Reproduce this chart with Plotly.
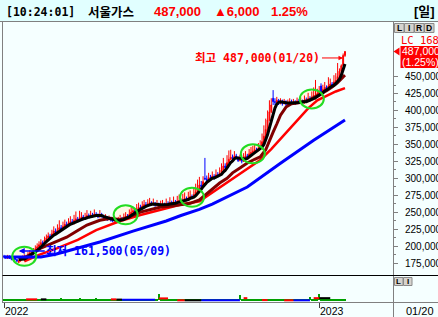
import plotly.graph_objects as go
import pandas as pd

W, H = 438, 317

# ---------------- data: daily candles, prices in thousand KRW ----------------
opens = [185,184,182,185,182,180,183,180,176,178, 181,183,185,184,187,190,189,193,196,199,
         202,205,204,209,212,215,213,218,222,220, 224,227,225,229,232,230,234,236,233,238,
         240,237,241,243,240,242,245,243,246,244, 247,245,243,246,244,241,242,239,240,238,
         237,239,236,238,240,239,242,244,243,247, 250,252,251,255,257,256,259,261,260,262,
         264,261,263,260,262,259,261,262,260,263, 261,264,262,265,263,266,267,265,268,270,
         269,271,273,272,276,280,285,290,288,300, 299,297,301,300,303,301,305,304,307,312,
         318,316,323,328,331,329,333,330,326,328, 325,330,333,331,336,338,340,342,341,344,
         348,354,362,372,386,398,418,413,412,415, 411,413,410,412,409,411,413,410,412,411,
         414,412,413,411,415,414,417,416,419,418, 420,425,436,426,431,434,432,436,439,437,
         442,444,450,458,466,481]
highs = [187,186,187,186,184,185,184,181,180,184, 186,188,187,191,194,192,197,201,204,207,
         210,208,214,217,220,218,224,229,226,232, 238,231,236,239,236,241,244,240,246,251,
         243,252,250,246,249,253,248,252,249,254, 250,248,253,249,246,247,244,245,243,241,
         244,241,243,246,243,248,250,247,254,257, 258,256,262,264,261,266,268,265,269,271,
         266,270,265,268,264,267,268,264,270,266, 272,267,273,268,274,276,270,277,279,273,
         280,282,276,286,292,298,302,296,303,330, 304,308,305,310,306,313,309,316,322,330,
         322,334,341,342,335,340,336,332,335,331, 337,340,336,343,346,348,350,345,352,356,
         366,378,388,400,415,418,430,418,420,417, 418,416,417,415,416,418,416,417,415,419,
         417,419,416,422,419,426,421,428,434,445, 432,436,440,438,442,437,449,447,442,452,
         455,470,462,468,484,487]
lows = [182,181,181,181,179,179,179,176,175,177, 180,182,182,183,186,187,188,192,195,198,
        201,202,203,207,210,211,212,217,218,219, 223,223,224,228,228,229,233,231,232,237,
        235,236,240,238,239,241,241,242,242,243, 243,241,242,242,239,240,237,238,236,235,
        236,234,235,237,237,238,241,241,242,246, 249,249,250,254,254,255,258,258,259,261,
        259,260,258,259,257,258,260,258,259,259, 260,260,261,261,262,265,263,264,267,266,
        268,270,269,271,275,279,284,285,287,297, 294,296,297,299,298,300,301,303,306,311,
        313,315,322,327,326,328,328,324,325,322, 324,329,329,330,335,337,339,338,340,343,
        347,353,361,370,384,396,408,408,410,408, 409,407,409,406,408,410,408,409,408,410,
        410,411,409,410,411,413,413,415,418,416, 419,424,423,425,430,429,431,435,434,436,
        440,443,449,456,465,479]
closes = [184,183,185,182,181,183,180,178,178,181, 183,185,184,187,190,189,193,196,199,202,
          205,204,209,212,215,213,218,222,220,224, 227,225,229,232,230,234,236,233,238,240,
          237,241,243,240,242,245,243,246,244,247, 245,243,246,244,241,242,239,240,238,237,
          239,236,238,240,239,242,244,243,247,250, 252,251,255,257,256,259,261,260,262,264,
          261,263,260,262,259,261,262,260,263,261, 264,262,265,263,266,267,265,268,270,269,
          271,273,272,276,280,285,290,288,295,299, 297,301,300,303,301,305,304,307,312,318,
          316,323,328,331,329,333,330,326,328,325, 330,333,331,336,338,340,342,341,344,348,
          354,362,372,386,398,408,413,412,415,411, 413,410,412,409,411,413,410,412,411,414,
          412,413,411,415,414,417,416,419,422,420, 425,428,426,431,434,432,436,439,437,442,
          444,450,458,466,481,487]
volumes = [4,5,3,4,4,5,3,4,6,5, 4,4,5,3,4,4,5,4,3,4, 4,5,4,4,3,4,5,4,4,4, 4,8,4,3,4,5,4,4,3,4,
           4,8,4,4,5,4,3,4,4,5, 8,4,4,3,4,4,5,4,4,3, 4,4,5,4,4,3,4,5,4,4, 4,5,4,4,3,4,4,5,4,4,
           4,4,5,4,26,5,4,4,3,4, 4,5,4,4,4,3,4,5,4,4, 4,4,5,4,4,5,4,4,5,6, 4,4,3,4,4,5,4,4,4,5,
           4,5,5,4,4,4,3,4,20,5, 4,4,5,4,4,3,4,4,5,5, 5,6,5,6,5,5,5,4,4,4, 4,5,4,4,3,4,4,5,4,4,
           4,4,5,4,4,4,14,4,4,5, 4,24,4,4,5,4,4,4,5,4, 4,5,5,4,5,5]

# moving averages (day index, thousand KRW)
ma20_idx = [8, 12, 16, 20, 27, 34, 40, 45, 52, 58, 63, 68, 74, 80, 85, 91, 96, 101, 106, 111,
            117, 121, 124, 128, 132, 136, 139, 142, 144, 146, 148, 150, 153, 156, 159, 162, 166,
            171, 175, 178, 181, 184, 185]
ma20_val = [181, 184, 190, 197, 205, 213, 223, 231, 238, 241, 239, 243, 250, 254, 257.5, 259,
            260.5, 263, 268, 280, 293, 300, 308, 315, 322.5, 328, 331.5, 342, 356, 368, 380, 393,
            405, 410, 411, 412.5, 416, 423, 429, 434.5, 441, 449.5, 452]
ma60_idx = [11, 19, 29, 40, 50, 57, 63, 74, 85, 95, 106, 115, 123, 132, 139, 145, 150, 155,
            160, 165, 170, 175, 180, 185]
ma60_val = [177.5, 187, 197, 209, 223.5, 231, 237, 245.8, 253, 260.5, 266, 283, 297.4, 315,
            327, 343, 358, 372, 388, 403, 415, 422, 428, 433]
ma120_idx = [0, 20, 28, 40, 52, 70, 88, 96, 106, 113, 132, 150, 168, 185]
ma120_val = [184, 184, 188, 197, 206, 222, 237, 245, 254, 262, 287, 322, 356, 386]

# volume moving-average pieces (start day, end day, level)
vol_ma5_segments = [(12, 18, 3), (58, 61, 3), (84, 89, 7), (94, 98, -1), (130, 132, 8),
                    (140, 143, 0), (152, 157, -1), (168, 171, 8)]
vol_ma20_segments = [(20, 23, 3), (61, 64, 2), (98, 107, -1), (171, 177, 8)]
vol_ma60_segments = [(64, 82, 1), (107, 128, -1), (157, 166, -1)]

# golden-cross markers
cross_idx = [11, 66, 102, 135, 167]
cross_price = [185, 246, 272, 336, 417]

y_ticks = [175, 200, 225, 250, 275, 300, 325, 350, 375, 400, 425, 450]
x_tick_idx = [0, 171]
x_tick_text = ["2022", "2023"]
last_date = "01/20"
stock_name = "서울가스"
clock = "[10:24:01]"
period_text = "[일]"
lc_text = "LC 168"
low_label_value = 161500
low_label_date = "05/09"
low_label_idx = 8

# ---------------- helpers ----------------
def py(p):
    return 1 - p / H

def px(p):
    return p / W

BG = "#F5FFFF"
RED = "#FF0000"
BLUE = "#0000FF"
BROWN = "#800000"
GRAY = "#808080"
MONO = "DejaVu Sans Mono, Noto Sans CJK KR"
SANS = "Liberation Sans, Noto Sans CJK KR"

n = len(closes)
idx = list(range(n))
ma5 = pd.Series(closes, dtype=float).rolling(5).mean()

fig = go.Figure()

fig.add_trace(go.Candlestick(
    x=idx, open=opens, high=highs, low=lows, close=closes,
    increasing=dict(line=dict(color=RED, width=1), fillcolor=RED),
    decreasing=dict(line=dict(color=BLUE, width=1), fillcolor=BLUE),
    whiskerwidth=0, hoverinfo="skip", xaxis="x", yaxis="y"))

fig.add_trace(go.Scatter(x=ma60_idx, y=ma60_val, mode="lines",
                         line=dict(color=RED, width=2.5), xaxis="x", yaxis="y"))
fig.add_trace(go.Scatter(x=ma20_idx, y=ma20_val, mode="lines",
                         line=dict(color=BROWN, width=3), xaxis="x", yaxis="y"))
fig.add_trace(go.Scatter(x=idx[8:], y=list(ma5[8:]), mode="lines",
                         line=dict(color="#000000", width=3), xaxis="x", yaxis="y"))
fig.add_trace(go.Scatter(x=ma120_idx, y=ma120_val, mode="lines",
                         line=dict(color=BLUE, width=3), xaxis="x", yaxis="y"))

fig.add_trace(go.Bar(x=idx, y=volumes, width=0.6, marker=dict(color="#00A000", line=dict(width=0)),
                     xaxis="x2", yaxis="y2"))


def seg_xy(segs):
    xs, ys = [], []
    for a, b, v in segs:
        xs += [a, b, None]
        ys += [v, v, None]
    return xs, ys


for segs, col in [(vol_ma60_segments, BLUE), (vol_ma20_segments, "#000000"), (vol_ma5_segments, RED)]:
    sx, sy = seg_xy(segs)
    fig.add_trace(go.Scatter(x=sx, y=sy, mode="lines", line=dict(color=col, width=2),
                             xaxis="x2", yaxis="y2"))

# ---------------- shapes ----------------
shapes = []
# header band
shapes.append(dict(type="rect", xref="paper", yref="paper", x0=0, x1=1, y0=py(21.5), y1=1,
                   fillcolor="#E1FFFF", line=dict(width=0), layer="below"))
# golden cross circles: fill under traces, outline on top
for cx, cy in zip(cross_idx, cross_price):
    common = dict(type="circle", xref="x", yref="y", xsizemode="pixel", ysizemode="pixel",
                  xanchor=cx, yanchor=cy, x0=-12, x1=12, y0=-9.5, y1=9.5)
    shapes.append(dict(common, fillcolor="#FFF8E6", line=dict(width=0), layer="below"))
    shapes.append(dict(common, line=dict(color="#22DD22", width=2), layer="above"))

def hline(y, x0, x1, color, w=1):
    return dict(type="line", xref="paper", yref="paper", x0=px(x0), x1=px(x1), y0=py(y), y1=py(y),
                line=dict(color=color, width=w), layer="above")

def vline(x, y0, y1, color, w=1):
    return dict(type="line", xref="paper", yref="paper", x0=px(x), x1=px(x), y0=py(y0), y1=py(y1),
                line=dict(color=color, width=w), layer="above")

shapes += [hline(21.5, 0, W, GRAY), vline(2.5, 21.5, 303, GRAY), vline(393.5, 21.5, H, GRAY),
           hline(275.5, 2.5, W, "#000000"), hline(302.5, 2.5, W, GRAY)]

# L I R D buttons
for i, x0 in enumerate([394.5, 404.5, 414.5, 424.5]):
    shapes.append(dict(type="rect", xref="paper", yref="paper", x0=px(x0), x1=px(x0 + 9.5),
                       y0=py(32.5), y1=py(23.5), fillcolor="#D6D3CE",
                       line=dict(color="#8A8A8A", width=1), layer="above"))
for x0 in [394.5, 403.5]:
    shapes.append(dict(type="rect", xref="paper", yref="paper", x0=px(x0), x1=px(x0 + 8.5),
                       y0=py(285.5), y1=py(277.5), fillcolor="#D6D3CE",
                       line=dict(color="#8A8A8A", width=1), layer="above"))

# current price marker
cur = closes[-1]
shapes.append(dict(type="rect", xref="paper", x0=px(400.5), x1=1, yref="y", ysizemode="pixel",
                   yanchor=cur, y0=-16.5, y1=5.5, fillcolor=RED, line=dict(width=0), layer="above"))
shapes.append(dict(type="path", xref="paper", xsizemode="pixel", xanchor=px(393.5), yref="y",
                   ysizemode="pixel", yanchor=cur, path="M 0,0 L 6,4 L 6,-4 Z",
                   fillcolor=RED, line=dict(width=0), layer="above"))

# ---------------- annotations ----------------
ann = []

def txt(text, x, y, size, color, family=SANS, bold=False, xanchor="left"):
    return dict(text=text, x=px(x), y=py(y), xref="paper", yref="paper", showarrow=False,
                xanchor=xanchor, yanchor="middle",
                font=dict(family=family, size=size, color=color, weight="bold" if bold else "normal"))

prev = closes[-2]
chg = cur - prev
pct = chg / prev * 100
ann.append(txt(clock, 4, 12, 11.5, "#000000", family="DejaVu Sans Mono", bold=True))
ann.append(txt(stock_name, 86, 12, 12.5, "#000000", family="Noto Sans CJK KR", bold=True))
ann.append(txt(f"{cur * 1000:,}", 152, 12, 13, RED, bold=True))
ann.append(txt(f"▲{chg * 1000:,}", 212, 12, 13, RED, bold=True))
ann.append(txt(f"{pct:.2f}%", 269, 12, 13, RED, bold=True))
ann.append(txt(period_text, 412, 12, 13, "#000000", bold=True))

for ch, x0 in zip("LIRD", [394.5, 404.5, 414.5, 424.5]):
    ann.append(txt(ch, x0 + 4.75, 28, 8.5, "#000000", bold=True, xanchor="center"))
for ch, x0 in zip("LI", [394.5, 403.5]):
    ann.append(txt(ch, x0 + 4.25, 281.5, 8, "#000000", bold=True, xanchor="center"))

ann.append(txt(lc_text, 399, 40, 10.5, RED, family="DejaVu Sans Mono"))
ann.append(dict(text=f"{cur * 1000:,}", x=px(400), xref="paper", y=cur, yref="y", yshift=0,
                showarrow=False, xanchor="left", yanchor="middle",
                font=dict(family=SANS, size=10.5, color="#FFFFFF")))
ann.append(dict(text=f"({pct:.2f}%)", x=px(400), xref="paper", y=cur, yref="y", yshift=-11,
                showarrow=False, xanchor="left", yanchor="middle",
                font=dict(family=SANS, size=10.5, color="#FFFFFF")))

hi = max(highs)
hi_i = highs.index(hi)
ann.append(dict(text=f"최고 {hi * 1000:,}({last_date})", x=hi_i, y=hi, xref="x", yref="y",
                xshift=-2, yshift=-6.5, showarrow=True, ax=-85, ay=0, arrowcolor=RED,
                arrowwidth=1, arrowhead=2, arrowsize=0.9,
                font=dict(family=MONO, size=11.5, color=RED, weight="bold")))
ann.append(dict(text=f"최저 {low_label_value:,}({low_label_date})", x=low_label_idx,
                y=min(lows), xref="x", yref="y", yshift=12, showarrow=True, ax=90, ay=0,
                arrowcolor=BLUE, arrowwidth=1.5, arrowhead=2, arrowsize=0.8,
                font=dict(family=MONO, size=11.5, color=BLUE, weight="bold")))

for i, t in zip(x_tick_idx, x_tick_text):
    ann.append(dict(text=t, x=i, xref="x", y=py(310.5), yref="paper", showarrow=False,
                    xanchor="left", yanchor="middle", xshift=-1,
                    font=dict(family=SANS, size=10.5, color="#000000")))
ann.append(txt(last_date, 404, 310.5, 11, "#000000"))

# ---------------- layout ----------------
r0 = -0.5425
r1 = r0 + 390 / 1.8432
y_lo = 175 - 12 / 0.678
y_hi = 175 + 240 / 0.678
minor_vals = [v + 12.5 for v in y_ticks[:-1]]

fig.update_layout(
    width=W, height=H, margin=dict(l=0, r=0, t=0, b=0),
    paper_bgcolor=BG, plot_bgcolor=BG, showlegend=False,
    shapes=shapes, annotations=ann,
    xaxis=dict(domain=[px(3), px(393)], range=[r0, r1], showticklabels=False, showgrid=False,
               zeroline=False, showline=False, ticks="", rangeslider=dict(visible=False),
               anchor="y"),
    yaxis=dict(domain=[py(275), py(23)], range=[y_lo, y_hi], side="right", anchor="x",
               tickvals=y_ticks, ticktext=[f"{v * 1000:,}" for v in y_ticks],
               ticks="outside", ticklen=4, tickcolor=GRAY, tickwidth=1,
               ticklabelstandoff=5, automargin=False,
               minor=dict(tickvals=minor_vals, ticks="outside", ticklen=2, tickcolor=GRAY),
               tickfont=dict(family=SANS, size=10, color="#000000"),
               showgrid=False, zeroline=False, showline=False),
    xaxis2=dict(domain=[px(3), px(393)], matches="x", anchor="y2", tickvals=x_tick_idx,
                ticks="outside", ticklen=5, tickcolor="#404040", showticklabels=False,
                showgrid=False, zeroline=False, showline=False),
    yaxis2=dict(domain=[py(302), py(276)], range=[-8, 100], visible=False, showgrid=False,
                zeroline=False, anchor="x2"),
    bargap=0,
)

fig.write_html("out.html", config={"displayModeBar": False})
